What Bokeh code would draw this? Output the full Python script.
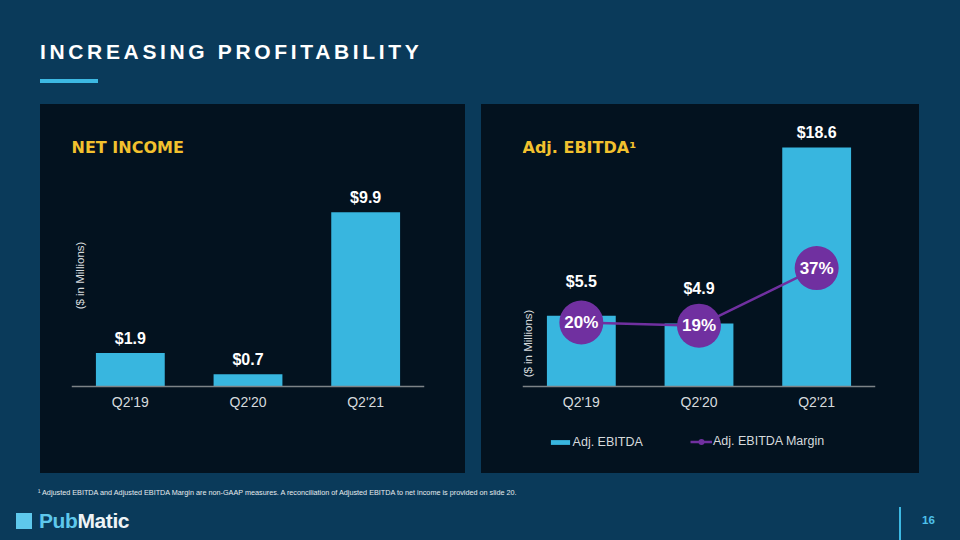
from bokeh.plotting import figure
from bokeh.models import (FactorRange, Range1d, ColumnDataSource, Label, Legend,
                          LegendItem, Div, Spacer)
from bokeh.layouts import column, row
from bokeh.core.properties import value
from bokeh.embed import file_html
from bokeh.resources import INLINE

# ---------------- data ----------------
quarters = ["Q2'19", "Q2'20", "Q2'21"]
net_income = [1.9, 0.7, 9.9]          # $ in millions
adj_ebitda = [5.5, 4.9, 18.6]         # $ in millions
ebitda_margin = [20, 19, 37]          # percent

TITLE = "INCREASING PROFITABILITY"
FOOTNOTE = ("¹ Adjusted EBITDA and Adjusted EBITDA Margin are non-GAAP measures. "
            "A reconciliation of Adjusted EBITDA to net income is provided on slide 20.")
PAGE_NO = "16"

# ---------------- style ----------------
SLIDE_BG = "#0a3a5a"
PANEL_BG = "#03121f"
BAR = "#38b6df"
PURPLE = "#7030a0"
GOLD = "#f2c12e"
AXIS = "#7d8387"
TICK = "#d6dadd"
ACCENT = "#3db9e3"
LOGO_BLUE = "#5ec8ec"
FONT = "Liberation Sans"
HEAD_FONT = "DejaVu Sans"
CSS_FONT = "'Liberation Sans', Arial, sans-serif"

EBITDA_LABEL_LIFT = [-26, -27, -6]

# frame spans y 120..451 of the slide; the category baseline sits at y 386
FRAME_H = 331
BASE_FROM_BOTTOM = 65


def base_fig(width, px_per_unit, b_left, b_right):
    lo = -BASE_FROM_BOTTOM / px_per_unit
    hi = (FRAME_H - BASE_FROM_BOTTOM) / px_per_unit
    p = figure(x_range=FactorRange(*quarters), y_range=Range1d(lo, hi),
               width=width, height=369, output_backend="svg",
               toolbar_location=None, y_axis_location=None,
               min_border_left=b_left, min_border_right=b_right,
               min_border_top=16, min_border_bottom=22,
               background_fill_color=None, border_fill_color=None,
               outline_line_color=None, styles={"background-color": PANEL_BG})
    p.grid.visible = False
    ax = p.xaxis[0]
    ax.fixed_location = 0
    ax.axis_line_color = AXIS
    ax.axis_line_width = 1.5
    ax.major_tick_line_color = None
    ax.major_tick_out = 0
    ax.major_tick_in = 0
    ax.minor_tick_line_color = None
    ax.major_label_text_font = FONT
    ax.major_label_text_font_size = "14px"
    ax.major_label_text_color = TICK
    ax.major_label_standoff = 7
    p.x_range.range_padding = 0
    return p


def header(p, text):
    p.add_layout(Label(x=0, y=FRAME_H - 27, x_units="screen", y_units="screen", text=text,
                       text_font=HEAD_FONT, text_font_style="bold",
                       text_font_size="16px", text_color=GOLD,
                       text_baseline="alphabetic"))


def unit_label(p, x, y):
    p.add_layout(Label(x=x, y=y, x_units="screen", y_units="screen",
                       text="($ in Millions)", angle=90, angle_units="deg",
                       text_align="center", text_baseline="middle",
                       text_font=FONT, text_font_size="11.5px", text_color=TICK))


# ---------------- left panel: net income ----------------
pl = base_fig(425, 17.6, 31, 41)
src_l = ColumnDataSource(dict(q=quarters, v=net_income,
                              lbl=[f"${v:.1f}" for v in net_income]))
pl.vbar(x="q", top="v", width=0.585, source=src_l, fill_color=BAR, line_color=None)
pl.text(x="q", y="v", text="lbl", source=src_l, text_align="center",
        text_baseline="bottom", y_offset=-6, text_font=value(FONT),
        text_font_style="bold", text_font_size="16px", text_color="white")
header(pl, "NET INCOME")
unit_label(pl, 8, 176)

# ---------------- right panel: adj. EBITDA ----------------
pr = base_fig(438, 12.85, 41, 44)
pr.extra_y_ranges = {"m": Range1d(-BASE_FROM_BOTTOM / 3.2,
                                  (FRAME_H - BASE_FROM_BOTTOM) / 3.2)}
src_r = ColumnDataSource(dict(q=quarters, v=adj_ebitda,
                              lbl=[f"${v:.1f}" for v in adj_ebitda],
                              off=EBITDA_LABEL_LIFT,
                              m=ebitda_margin,
                              mlbl=[f"{m}%" for m in ebitda_margin]))
r_bar = pr.vbar(x="q", top="v", width=0.585, source=src_r, fill_color=BAR,
                line_color=None)
r_line = pr.line(x="q", y="m", source=src_r, y_range_name="m",
                 line_color=PURPLE, line_width=2.5)
r_dot = pr.scatter(x="q", y="m", source=src_r, y_range_name="m", marker="circle",
                   size=44, fill_color=PURPLE, line_color=None)
pr.text(x="q", y="m", text="mlbl", source=src_r, y_range_name="m",
        text_align="center", text_baseline="middle", text_font=value(FONT),
        text_font_style="bold", text_font_size="17px", text_color="white")
pr.text(x="q", y="v", text="lbl", source=src_r, text_align="center",
        text_baseline="bottom", y_offset="off", text_font=value(FONT),
        text_font_style="bold", text_font_size="16px", text_color="white")
header(pr, "Adj. EBITDA¹")
unit_label(pr, 5, 108)

leg_style = dict(orientation="horizontal", margin=0, padding=0, spacing=0,
                 label_standoff=1, background_fill_alpha=0, border_line_color=None,
                 label_text_font=FONT, label_text_font_size="12.5px",
                 label_text_color=TICK)
leg_bar = Legend(items=[LegendItem(label="Adj. EBITDA", renderers=[r_bar])],
                 location=(25.6, 2.5), glyph_width=24, glyph_height=6,
                 label_height=6, **leg_style)
leg_margin = Legend(items=[LegendItem(label="Adj. EBITDA Margin",
                                      renderers=[r_line, r_dot])],
                    location=(168, 2.5), glyph_width=22, glyph_height=15,
                    label_height=15, **leg_style)
pr.add_layout(leg_bar)
pr.add_layout(leg_margin)

# ---------------- slide chrome ----------------
top_html = f"""
<div style="position:relative;width:960px;height:104px;font-family:{CSS_FONT};">
  <div style="position:absolute;left:40px;top:40.5px;font-size:21px;line-height:21px;
       font-weight:bold;letter-spacing:3.65px;color:#ffffff;white-space:nowrap;">{TITLE}</div>
  <div style="position:absolute;left:40px;top:79px;width:58px;height:4px;background:{ACCENT};"></div>
</div>"""
bottom_html = f"""
<div style="position:relative;width:960px;height:67px;font-family:{CSS_FONT};">
  <div style="position:absolute;left:38px;top:15.5px;font-size:7.25px;line-height:8px;
       color:#e6ebee;white-space:nowrap;">{FOOTNOTE}</div>
  <div style="position:absolute;left:16px;top:40px;width:16px;height:16px;background:{LOGO_BLUE};"></div>
  <div style="position:absolute;left:39px;top:37px;font-size:21px;line-height:21px;
       font-weight:bold;letter-spacing:-0.4px;white-space:nowrap;"><span style="color:{LOGO_BLUE};">Pub</span><span style="color:#eef3f6;">Matic</span></div>
  <div style="position:absolute;left:899px;top:34px;width:2px;height:33px;background:{ACCENT};"></div>
  <div style="position:absolute;left:922px;top:42.2px;font-size:11.5px;line-height:11.5px;
       font-weight:bold;color:#4fc1ea;">{PAGE_NO}</div>
</div>"""

top_div = Div(text=top_html, width=960, height=104, margin=0)
bottom_div = Div(text=bottom_html, width=960, height=67, margin=0)

panels = row(Spacer(width=40, height=369), pl, Spacer(width=16, height=369), pr,
             Spacer(width=41, height=369))
layout = column(top_div, panels, bottom_div)

html = file_html(layout, INLINE, title="Increasing Profitability")
html = html.replace(
    "</head>",
    f"<style>html,body{{margin:0!important;padding:0!important;background:{SLIDE_BG}!important;"
    "overflow:hidden;}</style></head>", 1)
open("out.html", "w").write(html)
